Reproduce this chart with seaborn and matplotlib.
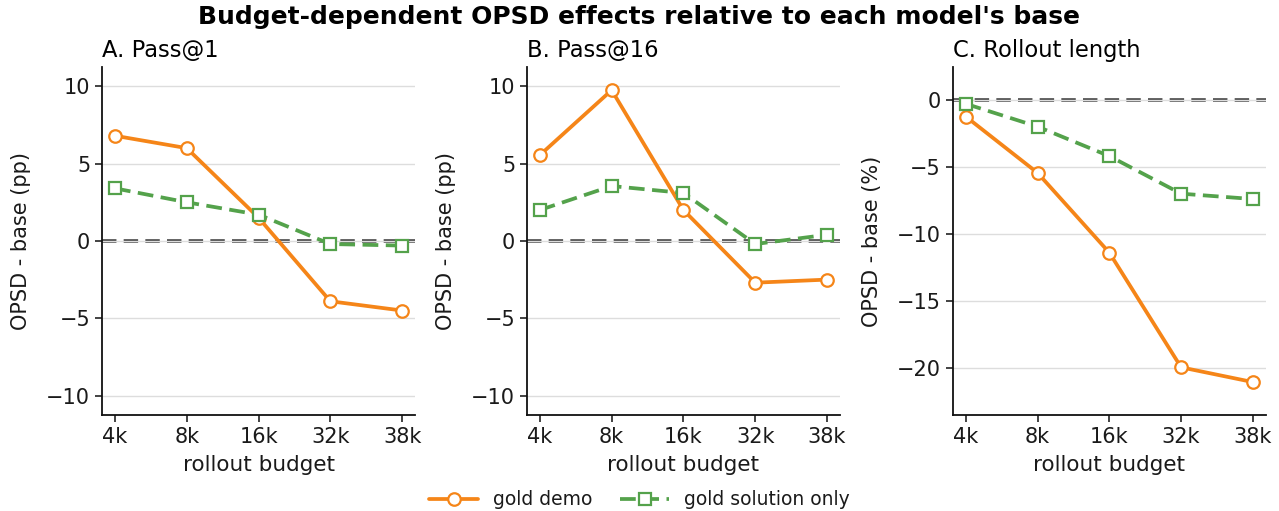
import matplotlib
matplotlib.use("Agg")
import matplotlib.pyplot as plt
import seaborn as sns
import pandas as pd

budgets = ["4k", "8k", "16k", "32k", "38k"]
series_names = ["gold demo", "gold solution only"]

pass1_demo = [6.8, 6.0, 1.5, -3.9, -4.5]
pass1_sol = [3.4, 2.5, 1.7, -0.2, -0.3]
pass16_demo = [5.55, 9.75, 2.0, -2.7, -2.5]
pass16_sol = [2.0, 3.55, 3.1, -0.2, 0.4]
length_demo = [-1.25, -5.45, -11.4, -19.95, -21.05]
length_sol = [-0.3, -2.0, -4.2, -7.0, -7.4]

panel_titles = ["A. Pass@1", "B. Pass@16", "C. Rollout length"]
y_labels = ["OPSD - base (pp)", "OPSD - base (pp)", "OPSD - base (%)"]

panels = [
    (pass1_demo, pass1_sol),
    (pass16_demo, pass16_sol),
    (length_demo, length_sol),
]

sns.set_theme(style="ticks")
plt.rcParams["font.family"] = ["DejaVu Sans"]
for key in ("text.color", "axes.labelcolor", "xtick.color", "ytick.color"):
    plt.rcParams[key] = "#1a1a1a"

palette = {"gold demo": "#f58518", "gold solution only": "#54a24b"}
green_dash = (4.2, 2.0)
dashes = {"gold demo": "", "gold solution only": green_dash}
markers = {"gold demo": "o", "gold solution only": "s"}

fig = plt.figure(figsize=(12.79, 5.11), dpi=100)
lefts = [0.0798, 0.412, 0.745]
width = 0.2447
bottom = 0.188
height = 0.869 - 0.188
ylims = [(-11.25, 11.25), (-11.25, 11.25), (-23.5, 2.45)]
yticks = [[-10, -5, 0, 5, 10], [-10, -5, 0, 5, 10], [-20, -15, -10, -5, 0]]

axes = []
for i, (demo, sol) in enumerate(panels):
    ax = fig.add_axes([lefts[i], bottom, width, height])
    axes.append(ax)
    df = pd.DataFrame({
        "budget": budgets * 2,
        "value": list(demo) + list(sol),
        "series": [series_names[0]] * len(budgets) + [series_names[1]] * len(budgets),
    })
    ax.yaxis.grid(True, color="#dddddd", linewidth=1.0)
    ax.set_axisbelow(True)
    ax.axhline(0, color="#444444", linestyle=(0, (4, 2)), linewidth=2.6, zorder=0.4)
    sns.lineplot(
        data=df, x="budget", y="value", hue="series", style="series",
        palette=palette, dashes=dashes, markers=markers, ax=ax,
        linewidth=2.7, markersize=9, markerfacecolor="white",
        markeredgewidth=1.6, legend=False, sort=False,
    )
    # marker edges follow the line colour
    for line in ax.get_lines()[1:]:
        line.set_markeredgecolor(line.get_color())
    ax.set_xlim(-0.18, 4.18)
    ax.set_ylim(*ylims[i])
    ax.set_yticks(yticks[i])
    ax.set_xlabel("rollout budget", fontsize=15.5, labelpad=6)
    ax.set_ylabel(y_labels[i], fontsize=15, labelpad=11)
    ax.set_title(panel_titles[i], loc="left", fontsize=16.3, pad=7, color="black")
    ax.tick_params(axis="both", labelsize=15, length=5, width=1.2, color="#222222")
    sns.despine(ax=ax)
    for sp in ("left", "bottom"):
        ax.spines[sp].set_linewidth(1.3)
        ax.spines[sp].set_color("#111111")

fig.suptitle("Budget-dependent OPSD effects relative to each model's base",
             fontsize=18, fontweight="bold", y=0.99, color="black")

handles = [
    plt.Line2D([], [], color=palette[n], linestyle="-" if n == "gold demo" else (0, green_dash),
               linewidth=2.7, marker=markers[n], markersize=9,
               markerfacecolor="white", markeredgecolor=palette[n], markeredgewidth=1.6)
    for n in series_names
]
fig.legend(handles, series_names, loc="lower center", ncol=2, frameon=False,
           fontsize=13.5, bbox_to_anchor=(0.5, -0.03), columnspacing=1.5, handlelength=2.6)

fig.savefig("out.png", dpi=100)
